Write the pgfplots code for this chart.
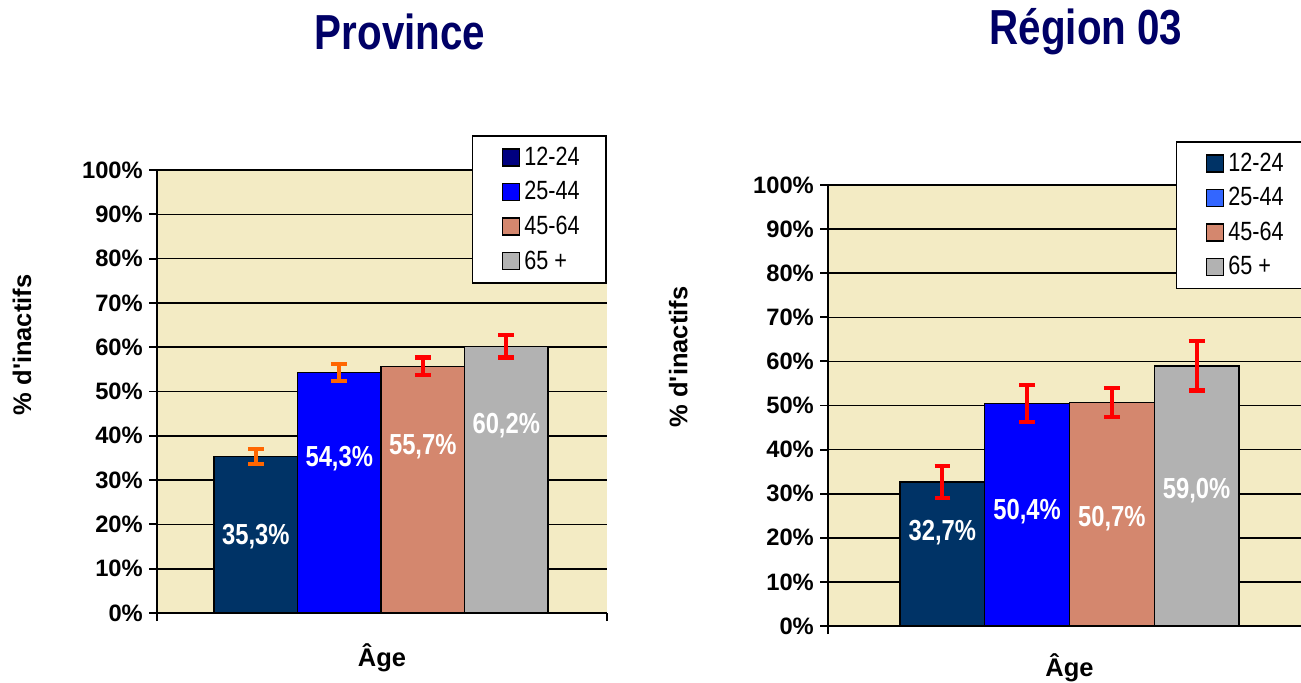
\documentclass[border=0pt]{standalone}
\usepackage{fontspec}
\setmainfont{Liberation Sans}
\newfontfamily\narrow[FakeStretch=0.82]{Liberation Sans}
\usepackage{pgfplots}
\pgfplotsset{compat=1.18}

\definecolor{cream}{RGB}{243,235,196}
\definecolor{titleblue}{RGB}{0,0,102}
\definecolor{c1}{RGB}{0,51,102}
\definecolor{c1leg}{RGB}{0,0,128}
\definecolor{c2}{RGB}{0,0,255}
\definecolor{c2leg}{RGB}{51,102,255}
\definecolor{c3}{RGB}{212,135,110}
\definecolor{c4}{RGB}{178,178,178}
\definecolor{eorange}{RGB}{255,102,0}
\definecolor{ered}{RGB}{255,0,0}

\pgfplotsset{
  chartbase/.style={
    scale only axis,
    ymin=0, ymax=100,
    ytick={0,10,...,100},
    yticklabels={0\%,10\%,20\%,30\%,40\%,50\%,60\%,70\%,80\%,90\%,100\%},
    xticklabels={,},
    axis x line*=bottom, axis y line*=left,
    axis line style={line width=1.3pt},
    ymajorgrids, grid style={black, line width=0.9pt},
    tick align=outside, major tick length=0.16cm,
    tick style={black, line width=1.1pt},
    axis background/.style={fill=cream},
    yticklabel style={font=\fontsize{13.5}{15}\selectfont\bfseries},
    xlabel={Âge}, ylabel={\% d\textquotesingle inactifs},
    label style={font=\fontsize{14.5}{16}\selectfont\bfseries},
    legend image code/.code={\path (0cm,0cm);
      \draw[#1, draw=black, line width=0.8pt] (0.14cm,-0.17cm) rectangle (0.48cm,0.17cm);},
    legend style={anchor=north east, draw=black, line width=1pt, fill=white,
      font=\narrow\fontsize{15}{16}\selectfont,
      inner xsep=0.44cm, inner ysep=0.15cm, row sep=0.13cm,
      nodes={inner xsep=2.5pt}},
    legend cell align=left,
  },
  barstyle/.style={ybar, bar width=1, bar shift=0pt, draw=black, line width=0.8pt, forget plot,
    error bars/y dir=both, error bars/y explicit,
    error bars/error bar style={line width=2.2pt, color=#1},
    error bars/error mark options={rotate=90, line width=2.4pt, mark size=4.5pt, color=#1}},
  labstyle/.style={draw=none, mark=none, forget plot, nodes near coords, point meta=explicit symbolic,
    every node near coord/.append style={anchor=center, text=white,
      font=\narrow\bfseries\fontsize{16.5}{18}\selectfont}},
}

\begin{document}
\begin{tikzpicture}

% Province
\begin{axis}[chartbase,
  at={(3.14cm,1.38cm)}, anchor=south west,
  width=9cm, height=8.86cm,
  xmin=-1.183, xmax=4.207, xtick={-1.183,4.207},
  xlabel style={at={(axis description cs:0.5,-0.102)}, anchor=center},
  ylabel style={at={(axis description cs:-0.30,0.605)}, anchor=center},
  legend style={at={(1,1.079)}},
]
\addlegendimage{fill=c1leg}
\addlegendimage{fill=c2}
\addlegendimage{fill=c3}
\addlegendimage{fill=c4}
\legend{12-24,25-44,45-64,65 +}
\addplot[barstyle=eorange, fill=c1] coordinates {(0,35.3) +- (0,1.7)};
\addplot[barstyle=eorange, fill=c2] coordinates {(1,54.3) +- (0,1.9)};
\addplot[barstyle=ered, fill=c3] coordinates {(2,55.7) +- (0,2.0)};
\addplot[barstyle=ered, fill=c4] coordinates {(3,60.2) +- (0,2.5)};
\addplot[labstyle] coordinates {
  (0,17.2) [35,3\%] (1,34.8) [54,3\%] (2,37.5) [55,7\%] (3,42.4) [60,2\%]
};
\end{axis}

% Region 03
\begin{axis}[chartbase,
  at={(16.56cm,1.12cm)}, anchor=south west,
  width=9.66cm, height=8.82cm,
  xmin=-1.35, xmax=4.35, xtick={-1.35,4.35},
  xlabel style={at={(axis description cs:0.5,-0.095)}, anchor=center},
  ylabel style={at={(axis description cs:-0.31,0.61)}, anchor=center},
  legend style={at={(1,1.1)}},
]
\addlegendimage{fill=c1}
\addlegendimage{fill=c2leg}
\addlegendimage{fill=c3}
\addlegendimage{fill=c4}
\legend{12-24,25-44,45-64,65 +}
\addplot[barstyle=ered, fill=c1] coordinates {(0,32.7) +- (0,3.6)};
\addplot[barstyle=ered, fill=c2] coordinates {(1,50.4) +- (0,4.2)};
\addplot[barstyle=ered, fill=c3] coordinates {(2,50.7) +- (0,3.3)};
\addplot[barstyle=ered, fill=c4] coordinates {(3,59.0) +- (0,5.6)};
\addplot[labstyle] coordinates {
  (0,21.1) [32,7\%] (1,25.9) [50,4\%] (2,24.3) [50,7\%] (3,30.8) [59,0\%]
};
\end{axis}

\node[font=\narrow\bfseries\fontsize{28}{30}\selectfont, text=titleblue] at (8.0cm,13.0cm) {Province};
\node[font=\narrow\bfseries\fontsize{28}{30}\selectfont, text=titleblue] at (21.72cm,13.0cm) {Région 03};

\pgfresetboundingbox
\useasboundingbox (0,0) rectangle (26.02cm,13.64cm);
\end{tikzpicture}
\end{document}
